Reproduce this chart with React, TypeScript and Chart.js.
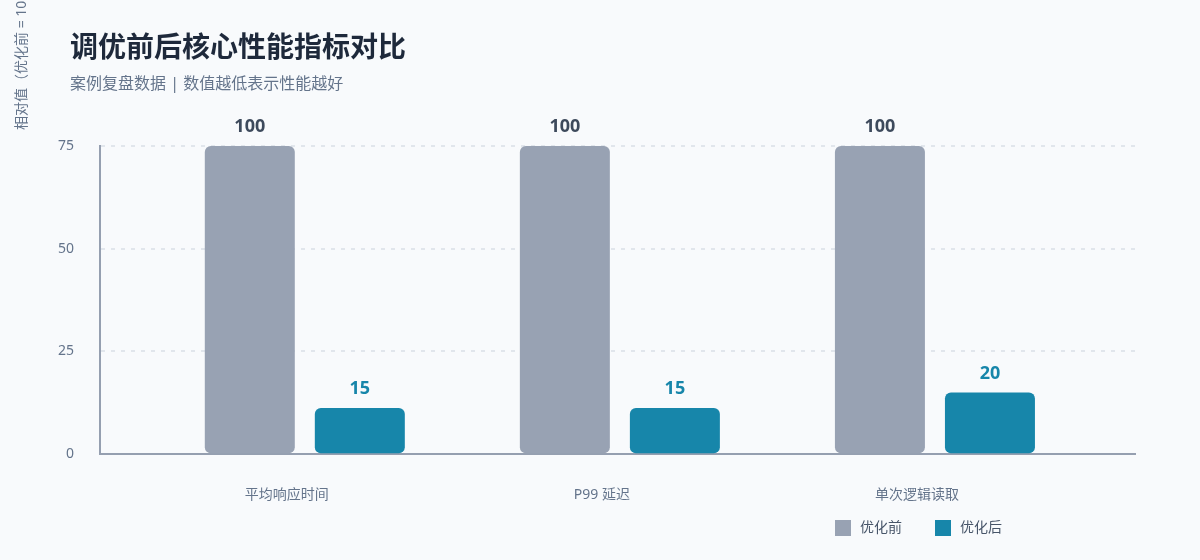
import { useEffect, useRef } from 'react';
import { Chart, registerables } from 'chart.js';

Chart.register(...registerables);

const categories = ['平均响应时间', 'P99 延迟', '单次逻辑读取'];
const seriesNames = ['优化前', '优化后'];
const beforeValues = [100, 100, 100];
const afterValues = [15, 15, 20];
const yTickLabels = ['0', '25', '50', '75'];
const yMax = 100;

const chartTitle = '调优前后核心性能指标对比';
const chartSubtitle = '案例复盘数据 | 数值越低表示性能越好';
const yAxisTitle = '相对值（优化前 = 100）';

const FONT = '"Noto Sans", "Noto Sans CJK SC", sans-serif';
const GRAY = '#98a2b3';
const TEAL = '#1786aa';
const AXIS = '#959fb0';
const MUTED = '#64748b';

// value labels, headings and the legend, all drawn on the chart canvas
const overlayPlugin = {
  id: 'overlay',
  afterDatasetsDraw(chart: Chart) {
    const { ctx } = chart;
    const labelColors = ['#3d4a5c', TEAL];
    ctx.save();
    ctx.font = `bold 18px ${FONT}`;
    ctx.textAlign = 'center';
    ctx.textBaseline = 'alphabetic';
    chart.data.datasets.forEach((ds, di) => {
      const meta = chart.getDatasetMeta(di);
      meta.data.forEach((bar: any, i) => {
        const point = ds.data[i] as any;
        ctx.fillStyle = labelColors[di];
        ctx.fillText(String(point.y), bar.x, bar.y - 14);
      });
    });
    ctx.restore();
  },
  afterDraw(chart: Chart) {
    const { ctx } = chart;
    ctx.save();

    ctx.textAlign = 'left';
    ctx.textBaseline = 'middle';
    ctx.fillStyle = '#1e293b';
    ctx.font = `bold 28px ${FONT}`;
    ctx.fillText(chartTitle, 70, 49);

    ctx.fillStyle = MUTED;
    ctx.font = `16px ${FONT}`;
    ctx.fillText(chartSubtitle, 70, 84);

    // y axis title
    ctx.save();
    ctx.translate(22, 130);
    ctx.rotate(-Math.PI / 2);
    ctx.font = `14px ${FONT}`;
    ctx.fillStyle = MUTED;
    ctx.fillText(yAxisTitle, 0, 0);
    ctx.restore();

    // legend
    let lx = 835;
    ctx.font = `14px ${FONT}`;
    chart.data.datasets.forEach((ds) => {
      ctx.fillStyle = ds.backgroundColor as string;
      ctx.fillRect(lx, 520, 16, 16);
      ctx.fillStyle = '#475569';
      ctx.fillText(ds.label as string, lx + 25, 528);
      lx += 25 + ctx.measureText(ds.label as string).width + 33;
    });

    ctx.restore();
  },
};

const App = () => {
  const canvasRef = useRef<HTMLCanvasElement>(null);
  const chartRef = useRef<Chart | null>(null);

  useEffect(() => {
    const ctx = canvasRef.current?.getContext('2d');
    if (!ctx) return;

    if (chartRef.current) {
      chartRef.current.destroy();
    }

    chartRef.current = new Chart(ctx, {
      type: 'bar',
      data: {
        datasets: [
          {
            label: seriesNames[0],
            data: categories.map((_, i) => ({ x: i, y: beforeValues[i] })),
            backgroundColor: GRAY,
          },
          {
            label: seriesNames[1],
            data: categories.map((_, i) => ({ x: i, y: afterValues[i] })),
            backgroundColor: TEAL,
          },
        ],
      },
      options: {
        animation: false,
        responsive: true,
        maintainAspectRatio: false,
        datasets: {
          bar: {
            borderRadius: 6,
            borderSkipped: false,
            categoryPercentage: 0.6984,
            barPercentage: 0.818,
          },
        },
        layout: {
          padding: { left: 32, right: 65, top: 146, bottom: 25 },
        },
        plugins: {
          legend: { display: false },
          tooltip: { enabled: false },
        },
        scales: {
          x: {
            type: 'linear',
            offset: false,
            bounds: 'data',
            min: -0.65,
            max: 2.635,
            afterBuildTicks: (axis: any) => {
              axis.ticks = categories.map((_, i) => ({ value: i }));
            },
            grid: { display: false, drawTicks: false, offset: false },
            border: { display: true, color: AXIS, width: 2 },
            ticks: {
              callback: (v: any) => categories[v] ?? '',
              padding: 32,
              labelOffset: -18,
              maxRotation: 0,
              autoSkip: false,
              color: MUTED,
              font: { family: FONT, size: 14 },
            },
          },
          y: {
            min: 0,
            max: yMax,
            afterBuildTicks: (axis: any) => {
              axis.ticks = yTickLabels.map((_, i) => ({
                value: (yMax * i) / (yTickLabels.length - 1),
              }));
            },
            grid: {
              drawTicks: false,
              lineWidth: 2,
              color: (c: any) => (c.tick && c.tick.value === 0 ? 'transparent' : '#e1e6ec'),
            },
            border: { display: true, color: AXIS, width: 2, dash: [4, 6] },
            ticks: {
              callback: (_v: any, i: number) => yTickLabels[i],
              padding: 26,
              color: MUTED,
              font: { family: FONT, size: 14 },
            },
          },
        },
      },
      plugins: [overlayPlugin],
    });

    return () => {
      if (chartRef.current) {
        chartRef.current.destroy();
        chartRef.current = null;
      }
    };
  }, []);

  return (
    <div
      style={{
        position: 'fixed',
        left: 0,
        top: 0,
        width: '1200px',
        height: '560px',
        background: '#f8fafc',
      }}
    >
      <canvas ref={canvasRef} />
    </div>
  );
};

export default App;
